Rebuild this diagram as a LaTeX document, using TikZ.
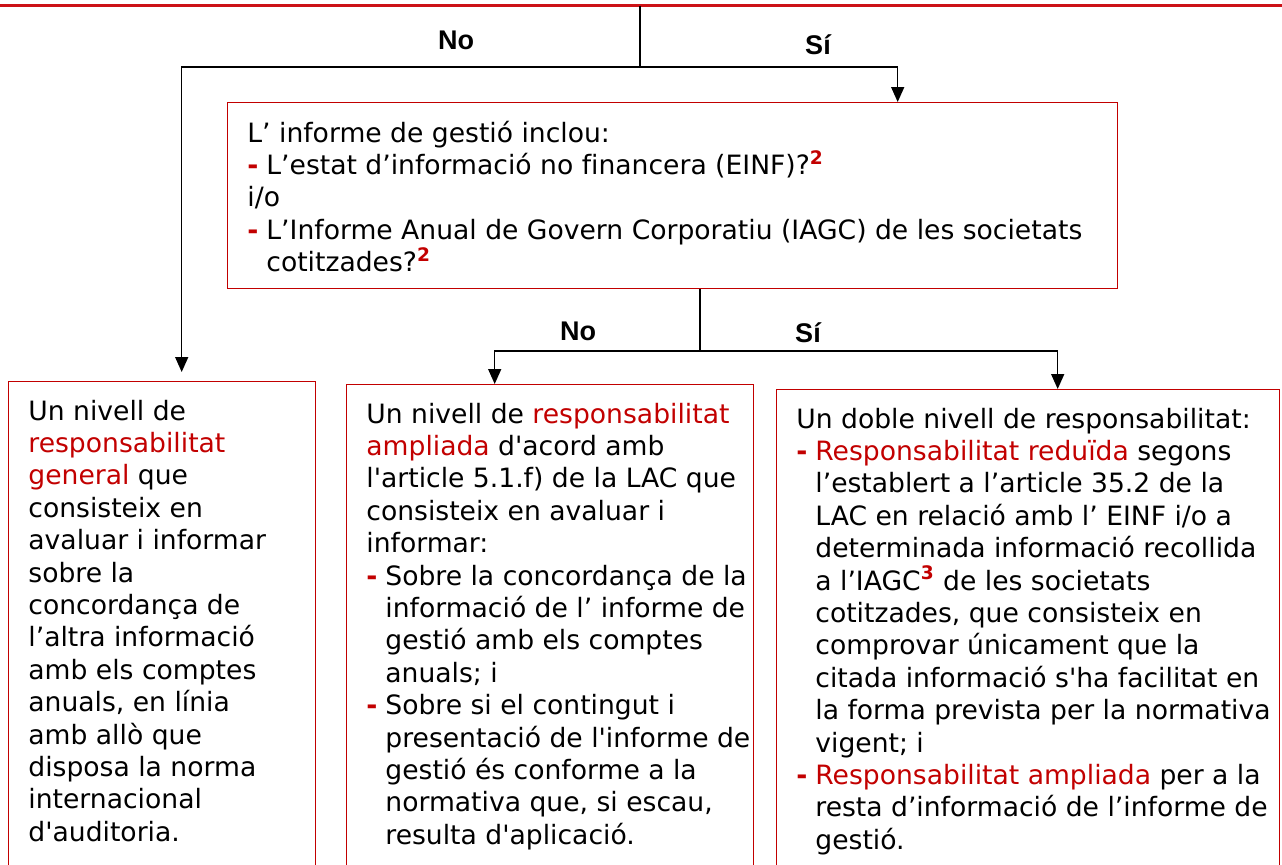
\documentclass[tikz,border=0pt]{standalone}
\usepackage{fontspec}
\setmainfont{DejaVu Sans}[Ligatures={TeXOff,CommonOff}]
\newfontfamily\lblfont{Liberation Sans}
\usepackage{tikz}
\usetikzlibrary{arrows.meta}
\usetikzlibrary{calc}
\definecolor{mred}{rgb}{0.76, 0, 0}
\definecolor{lred}{rgb}{0.80, 0.07, 0.09}
\tikzset{box/.style = {draw=mred, line width=0.7pt, rectangle, anchor=north west, inner sep=0pt}}
\tikzset{txt/.style = {anchor=north west, inner sep=0pt, align=left,
                       font=\fontsize{13.3}{16.2}\selectfont}}
\tikzset{lbl/.style = {font=\lblfont\bfseries\fontsize{13.5}{16}\selectfont}}
\tikzset{conn/.style = {line width=0.75pt}}
\tikzset{arr/.style = {conn, -{Triangle[width=6.5pt,length=7.5pt]}}}
\newcommand{\rd}[1]{\textcolor{mred}{#1}}
\newcommand{\sref}[1]{\textsuperscript{\textbf{\rd{#1}}}}
\newcommand{\bul}{\makebox[9.5pt][l]{\rd{\textbf{-}}}}
\newcommand{\ind}{\hspace*{9.5pt}}

\begin{document}
\begin{tikzpicture}[x=0.5pt, y=-0.5pt]
    \useasboundingbox (0,0) rectangle (1282,864);
    \clip (0,0) rectangle (1282,864);

    \draw [lred, line width=1.5pt] (0,5.5) -- (1282,5.5);

    % boxes
    \node [box, minimum width=445pt, minimum height=93pt] (topbox) at (227,102) {};
    \node [box, minimum width=153.5pt, minimum height=260pt] (lbox) at (8,381) {};
    \node [box, minimum width=203.5pt, minimum height=260pt] (mbox) at (346,384) {};
    \node [box, minimum width=251.5pt, minimum height=260pt] (rbox) at (776,389) {};

    \node [txt] (toptxt) at ([shift={(20,18.5)}]topbox.north west) {%
      L’ informe de gestió inclou:\\
      \bul L’estat d’informació no financera (EINF)?\sref{2}\\
      i/o\\
      \bul L’Informe Anual de Govern Corporatiu (IAGC) de les societats\\
      \ind cotitzades?\sref{2}};

    \node [txt] (ltxt) at ([shift={(20,18.5)}]lbox.north west) {%
      Un nivell de\\
      \rd{responsabilitat}\\
      \rd{general} que\\
      consisteix en\\
      avaluar i informar\\
      sobre la\\
      concordança de\\
      l’altra informació\\
      amb els comptes\\
      anuals, en línia\\
      amb allò que\\
      disposa la norma\\
      internacional\\
      d'auditoria.};

    \node [txt] (mtxt) at ([shift={(20,18.5)}]mbox.north west) {%
      Un nivell de \rd{responsabilitat}\\
      \rd{ampliada} d'acord amb\\
      l'article 5.1.f) de la LAC que\\
      consisteix en avaluar i\\
      informar:\\
      \bul Sobre la concordança de la\\
      \ind informació de l’ informe de\\
      \ind gestió amb els comptes\\
      \ind anuals; i\\
      \bul Sobre si el contingut i\\
      \ind presentació de l'informe de\\
      \ind gestió és conforme a la\\
      \ind normativa que, si escau,\\
      \ind resulta d'aplicació.};

    \node [txt] (rtxt) at ([shift={(20,18.5)}]rbox.north west) {%
      Un doble nivell de responsabilitat:\\
      \bul \rd{Responsabilitat reduïda} segons\\
      \ind l’establert a l’article 35.2 de la\\
      \ind LAC en relació amb l’ EINF i/o a\\
      \ind determinada informació recollida\\
      \ind a l’IAGC\sref{3} de les societats\\
      \ind cotitzades, que consisteix en\\
      \ind comprovar únicament que la\\
      \ind citada informació s'ha facilitat en\\
      \ind la forma prevista per la normativa\\
      \ind vigent; i\\
      \bul \rd{Responsabilitat ampliada} per a la\\
      \ind resta d’informació de l’informe de\\
      \ind gestió.};

    % connectors
    \coordinate (top) at (640,5.5);
    \coordinate (split) at (640,67);
    \coordinate (noend) at ([xshift=9.75pt, yshift=4.5pt]lbox.north);
    \coordinate (siend) at ([xshift=112.5pt]topbox.north);
    \draw [conn] (top) -- (split);
    \draw [arr] (split) -| (noend);
    \draw [arr] (split) -| (siend);

    \coordinate (split2) at (700,351);
    \draw [conn] (split2 |- topbox.south) -- (split2);
    \draw [arr] (split2) -| ([xshift=-27.75pt]mbox.north);
    \draw [arr] (split2) -| ([xshift=14.75pt]rbox.north);

    \node [lbl] (no1) at (456,40) {No};
    \node [lbl] (si1) at (818,45) {Sí};
    \node [lbl] (no2) at (578,331) {No};
    \node [lbl] (si2) at (808,333) {Sí};
  \end{tikzpicture}
\end{document}
